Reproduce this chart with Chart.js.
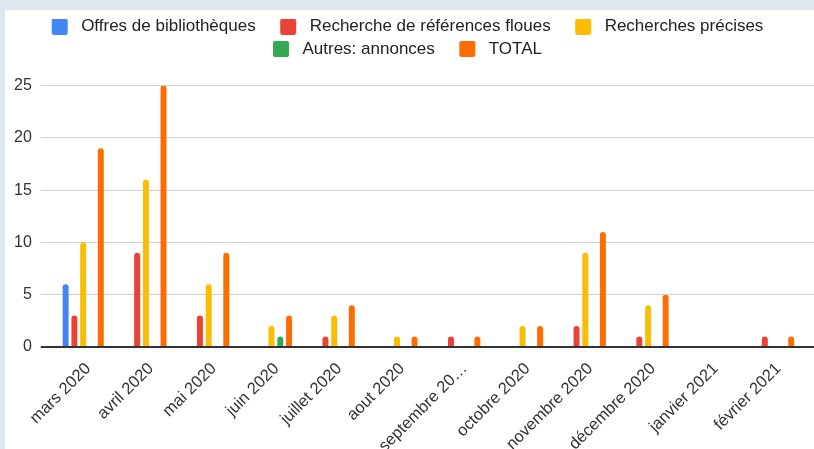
<!DOCTYPE html>
<html>
<head>
<meta charset="utf-8">
<script src="https://cdn.jsdelivr.net/npm/chart.js@4.4.1/dist/chart.umd.min.js"></script>
<style>
  html, body { margin: 0; padding: 0; background: #dfe6ee; }
  #wrap { position: absolute; left: 5px; top: 10px; width: 809px; height: 439px; background: #fff; }
</style>
</head>
<body>
<div id="wrap"><canvas id="chart"></canvas></div>
<script>
// Data
const months = ['mars 2020', 'avril 2020', 'mai 2020', 'juin 2020', 'juillet 2020', 'aout 2020',
    'septembre 2020', 'octobre 2020', 'novembre 2020', 'décembre 2020', 'janvier 2021', 'février 2021'];
const offres     = [6, 0, 0, 0, 0, 0, 0, 0, 0, 0, 0, 0];
const floues     = [3, 9, 3, 0, 1, 0, 1, 0, 2, 1, 0, 1];
const precises   = [10, 16, 6, 2, 3, 1, 0, 2, 9, 4, 0, 0];
const annonces   = [0, 0, 0, 1, 0, 0, 0, 0, 0, 0, 0, 0];
const total      = [19, 25, 9, 3, 4, 1, 1, 2, 11, 5, 0, 1];
const yTicks     = [0, 5, 10, 15, 20, 25];

const colors = ['#4285f4', '#ea4335', '#fbbc04', '#34a853', '#ff6d01'];
const font = 'Liberation Sans, Arial, sans-serif';

function bars(label, data, color) {
    return {
        label: label,
        data: data,
        backgroundColor: color,
        borderRadius: 3,
        borderSkipped: 'start',
        categoryPercentage: 0.7,
        barPercentage: 0.68
    };
}

// legend swatch: transparent lead-in, square, then small gap before the text
function swatch(color) {
    const c = document.createElement('canvas');
    c.width = 40;
    c.height = 16;
    const g = c.getContext('2d');
    g.fillStyle = color;
    g.beginPath();
    g.roundRect(19, 0, 16, 16, 2);
    g.fill();
    return c;
}
const swatches = colors.map(swatch);

// extra room under the legend, and recentre the rows
const legendGap = {
    id: 'legendGap',
    beforeInit(chart) {
        const fit = chart.legend.fit;
        chart.legend.fit = function () {
            fit.bind(chart.legend)();
            this.height += 18;
        };
    },
    afterLayout(chart) {
        chart.legend.left -= 7;
        chart.legend.right -= 7;
    }
};

function align(p, w) {
    return Math.round(p - w / 2) + w / 2;
}

// gridlines run on to the right edge, as in the original
const gridRight = {
    id: 'gridRight',
    beforeDatasetsDraw(chart) {
        const y = chart.scales.y, ctx = chart.ctx, area = chart.chartArea;
        ctx.save();
        y.ticks.forEach(t => {
            const w = t.value === 0 ? 2 : 1;
            const py = align(y.getPixelForValue(t.value), w);
            ctx.strokeStyle = t.value === 0 ? '#333' : '#d0d0d0';
            ctx.lineWidth = w;
            ctx.beginPath();
            ctx.moveTo(area.right, py);
            ctx.lineTo(chart.width, py);
            ctx.stroke();
        });
        ctx.restore();
    }
};

const ctx = document.getElementById('chart').getContext('2d');
const chart = new Chart(ctx, {
    type: 'bar',
    data: {
        labels: months,
        datasets: [
            bars('Offres de bibliothèques', offres, colors[0]),
            bars('Recherche de références floues', floues, colors[1]),
            bars('Recherches précises', precises, colors[2]),
            bars('Autres: annonces', annonces, colors[3]),
            bars('TOTAL', total, colors[4])
        ]
    },
    options: {
        responsive: true,
        maintainAspectRatio: false,
        animation: false,
        layout: { padding: { top: 2.5, left: 0, right: 9, bottom: 0 } },
        scales: {
            x: {
                grid: { display: false, drawTicks: false },
                border: { display: false },
                afterFit: s => { s.paddingLeft = 0; s.paddingRight = 0; s.height = 102; },
                ticks: {
                    autoSkip: false,
                    minRotation: 45,
                    maxRotation: 45,
                    padding: 12,
                    labelOffset: 5,
                    color: '#333',
                    font: { family: font, size: 16.5 },
                    callback: function (v) {
                        const s = months[v];
                        return s.length > 13 ? s.slice(0, 12) + '…' : s;
                    }
                }
            },
            y: {
                min: 0,
                max: 25,
                afterBuildTicks: axis => { axis.ticks = yTicks.map(v => ({ value: v })); },
                grid: {
                    tickLength: 11,
                    color: c => c.tick && c.tick.value === 0 ? '#333' : '#d0d0d0',
                    lineWidth: c => c.tick && c.tick.value === 0 ? 2 : 1
                },
                border: { display: false },
                ticks: { padding: 9, color: '#333', font: { family: font, size: 16 } }
            }
        },
        plugins: {
            legend: {
                position: 'top',
                labels: {
                    usePointStyle: true,
                    pointStyleWidth: 40,
                    boxHeight: 16,
                    padding: 5.5,
                    color: '#222',
                    font: { family: font, size: 17 },
                    generateLabels: chart => {
                        const items = Chart.defaults.plugins.legend.labels.generateLabels(chart);
                        items.forEach(it => { it.pointStyle = swatches[it.datasetIndex]; });
                        return items;
                    }
                }
            },
            tooltip: { enabled: false }
        }
    },
    plugins: [legendGap, gridRight]
});
</script>
</body>
</html>
